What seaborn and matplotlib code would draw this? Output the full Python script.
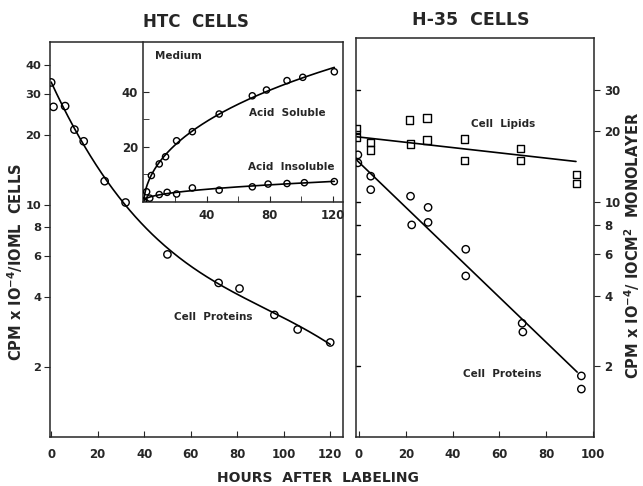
import numpy as np
import pandas as pd
import matplotlib
matplotlib.use("Agg")
import matplotlib.pyplot as plt
import seaborn as sns
from matplotlib.ticker import FixedLocator, FixedFormatter, NullLocator

# ---------------- data ----------------
# HTC cells: cell proteins (main left panel)
htc_hours = [0, 1, 6, 10, 14, 23, 32, 50, 72, 81, 96, 106, 120]
htc_protein = [33.5, 26.3, 26.5, 21.0, 18.7, 12.6, 10.2, 6.1, 4.6, 4.35, 3.35, 2.9, 2.55]

# HTC inset: medium
sol_hours = [0, 2, 5, 10, 14, 21, 31, 48, 69, 78, 91, 101, 121]
sol_values = [0.1, 3.7, 9.6, 13.8, 16.4, 22.2, 25.5, 31.9, 38.5, 40.6, 44.0, 45.2, 47.2]
insol_hours = [0, 4, 10, 15, 21, 31, 48, 69, 79, 91, 102, 121]
insol_values = [0.5, 1.4, 2.7, 3.5, 2.9, 5.1, 4.3, 5.5, 6.5, 6.7, 7.0, 7.4]

# H-35 cells
lipid_hours = [-1, -1, 5, 5, 21.5, 22, 29, 29, 45, 45, 69, 69, 93, 93]
lipid_values = [20.5, 18.8, 17.9, 16.7, 22.4, 17.7, 22.8, 18.4, 18.6, 15.0, 16.9, 15.0, 13.1, 12.0]
h35_prot_hours = [-0.5, -0.5, 5, 5, 22, 22.5, 29.5, 29.5, 45.6, 45.6, 69.7, 70, 95, 95]
h35_prot_values = [15.9, 14.7, 12.9, 11.3, 10.6, 8.0, 9.5, 8.2, 6.3, 4.85, 3.05, 2.8, 1.82, 1.6]
lipid_line_hours = [-1.3, 92.7]
lipid_line_values = [19.0, 14.9]
prot_line_hours = [-1.3, 93.2]
prot_line_values = [15.2, 1.89]

left_yticks = [2, 4, 6, 8, 10, 20, 30, 40]
right_yticks = [2, 4, 6, 8, 10, 20, 30]
left_xticks = [0, 20, 40, 60, 80, 100, 120]
right_xticks = [0, 20, 40, 60, 80, 100]

# ---------------- style ----------------
sns.set_style("ticks")
plt.rcParams['font.family'] = ['DejaVu Sans']
plt.rcParams['font.weight'] = 'bold'
plt.rcParams['axes.linewidth'] = 1.1

fig = plt.figure(figsize=(6.43, 4.86), dpi=100)
W, H = 643, 486
def rect(x0, y0, x1, y1):
    return [x0 / W, 1 - y1 / H, (x1 - x0) / W, (y1 - y0) / H]

axL = fig.add_axes(rect(50, 42, 343, 437))
axR = fig.add_axes(rect(356, 38, 594, 437))
axI = fig.add_axes(rect(143, 42, 343, 202))
axI.patch.set_alpha(0)

mk = dict(facecolor='none', edgecolor='black', linewidth=1.0, s=28, legend=False, zorder=3)
lk = dict(color='black', linewidth=1.2, estimator=None, sort=False, legend=False)

# ---- left panel ----
coef = np.polyfit(htc_hours, np.log10(htc_protein), 3,
                  w=[3, 0.2, 1, 1, 1, 1, 1, 1, 1, 1, 1, 1, 1])
fx = np.linspace(0, 120, 200)
fy = 10 ** np.polyval(coef, fx)
sns.lineplot(x=fx, y=fy, ax=axL, **lk)
sns.scatterplot(x=htc_hours, y=htc_protein, ax=axL, marker='o', **mk)
axL.set_yscale('log')
axL.set_ylim(1, 50)
axL.set_xlim(-0.5, 125.5)
axL.yaxis.set_major_locator(FixedLocator(left_yticks))
axL.yaxis.set_major_formatter(FixedFormatter([str(v) for v in left_yticks]))
axL.yaxis.set_minor_locator(NullLocator())
axL.set_xticks(left_xticks)
axL.set_xticklabels([str(v) for v in left_xticks])
axL.tick_params(axis='x', direction='in', length=4, labelsize=8.5, pad=8)
axL.tick_params(axis='y', direction='out', length=4, labelsize=8.2, pad=2.5)
axL.text(69.5, 3.29, 'Cell  Proteins', ha='center', va='center', fontsize=7.5)
axL.set_xlabel('')
axL.set_ylabel('')

# ---- inset ----
sx = np.linspace(0, 121, 200)
cs = np.polyfit(np.sqrt(sol_hours), sol_values, 2)
sns.lineplot(x=sx, y=np.polyval(cs, np.sqrt(sx)), ax=axI, **lk)
ci = np.polyfit(np.sqrt(insol_hours), insol_values, 3)
sns.lineplot(x=sx, y=np.polyval(ci, np.sqrt(sx)), ax=axI, **lk)
mk_small = dict(mk)
mk_small['s'] = 20
sns.scatterplot(x=sol_hours, y=sol_values, ax=axI, marker='o', **mk_small)
sns.scatterplot(x=insol_hours, y=insol_values, ax=axI, marker='o', **mk_small)
axI.set_xlim(-0.3, 126.5)
axI.set_ylim(0, 58)
axI.spines['top'].set_visible(False)
axI.spines['right'].set_visible(False)
axI.set_xticks([40, 80, 120])
axI.set_xticks([20, 60, 100], minor=True)
axI.set_yticks([20, 40])
axI.set_yticks([10, 30], minor=True)
axI.tick_params(which='both', direction='in', length=4, labelsize=8.5)
axI.tick_params(axis='x', pad=5)
axI.text(22, 53, 'Medium', ha='center', va='center', fontsize=7.5)
axI.text(91, 32.4, 'Acid  Soluble', ha='center', va='center', fontsize=7.5)
axI.text(93.4, 12.7, 'Acid  Insoluble', ha='center', va='center', fontsize=7.5)
axI.set_xlabel('')
axI.set_ylabel('')

# ---- right panel ----
sns.lineplot(x=lipid_line_hours, y=lipid_line_values, ax=axR, **lk)
sns.lineplot(x=prot_line_hours, y=prot_line_values, ax=axR, **lk)
sns.scatterplot(x=lipid_hours, y=lipid_values, ax=axR, marker='s', **mk)
sns.scatterplot(x=h35_prot_hours, y=h35_prot_values, ax=axR, marker='o', **mk)
axR.set_yscale('log')
axR.set_ylim(1, 50)
axR.set_xlim(-1.3, 100.4)
axR.yaxis.set_major_locator(FixedLocator(right_yticks))
axR.yaxis.set_major_formatter(FixedFormatter([str(v) for v in right_yticks]))
axR.yaxis.set_minor_locator(NullLocator())
axR.yaxis.tick_right()
axR.tick_params(axis='y', which='both', left=False, right=True, labelleft=False, labelright=True,
                labelsize=8.5, length=4, direction='out')
axR.set_xticks(right_xticks)
axR.set_xticklabels([str(v) for v in right_xticks])
axR.tick_params(axis='x', direction='in', length=4, labelsize=8.5, pad=8)
axR.text(61.5, 21.5, 'Cell  Lipids', ha='center', va='center', fontsize=7.5)
axR.text(61, 1.85, 'Cell  Proteins', ha='center', va='center', fontsize=7.5)
axR.set_xlabel('')
axR.set_ylabel('')

# left-side inward ticks on right panel
for t in right_yticks:
    axR.plot([0, 0.016], [t, t], transform=axR.get_yaxis_transform(), color='black',
             linewidth=1.0, clip_on=False)

# ---- figure texts ----
fig.text(196 / W, 1 - 22 / H, 'HTC  CELLS', ha='center', va='center', fontsize=12, fontweight='bold')
fig.text(471 / W, 1 - 20 / H, 'H-35  CELLS', ha='center', va='center', fontsize=12.5, fontweight='bold')
fig.text(318 / W, 1 - 478 / H, 'HOURS  AFTER  LABELING', ha='center', va='center', fontsize=10)
fig.text(15 / W, 1 - 262 / H, 'CPM x IO$^{-4}$/IOML  CELLS', ha='center', va='center',
         rotation=90, fontsize=10.5)
fig.text(632 / W, 1 - 245 / H, 'CPM x IO$^{-4}$/ IOCM$^2$  MONOLAYER', ha='center', va='center',
         rotation=90, fontsize=10.5)

fig.savefig('out.png', dpi=100)
